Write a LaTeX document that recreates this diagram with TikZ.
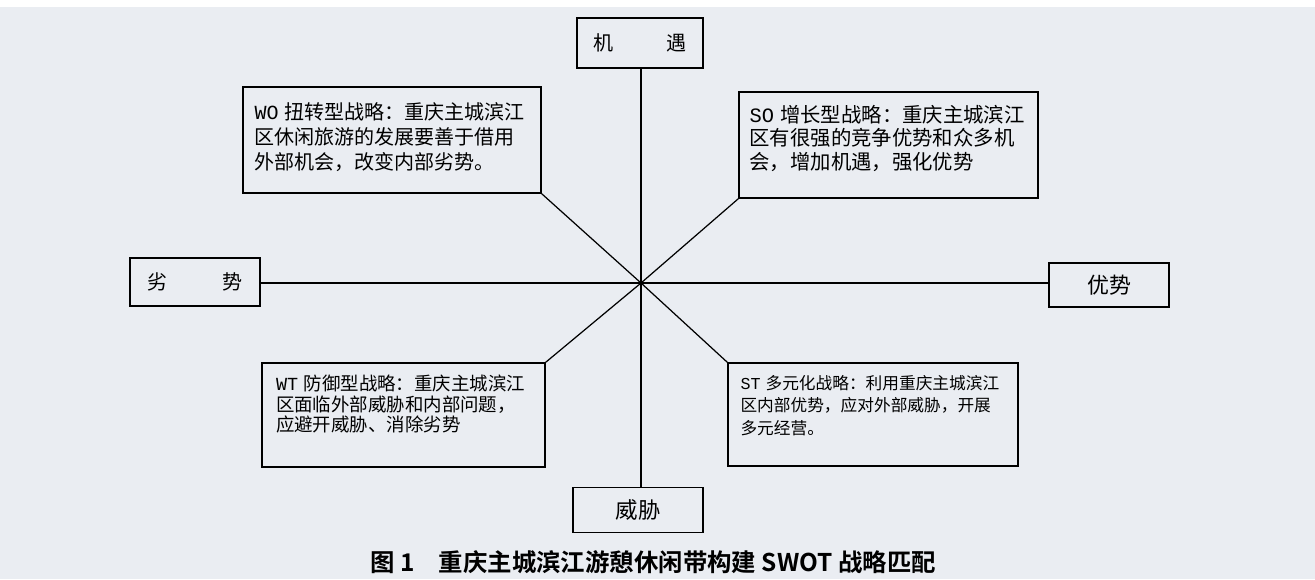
\documentclass[tikz,border=0pt]{standalone}
\usepackage{fontspec}
\newfontfamily\cjk{Noto Sans CJK SC}[BoldFont={Noto Sans CJK SC Bold}]
\newfontfamily\latin{Liberation Mono}
\definecolor{sfondo}{RGB}{234,237,242}
\tikzset{
box/.style={draw,line width=0.9pt,inner sep=0pt,font=\cjk},
asse/.style={box,fill=sfondo},
strategia/.style={box,fill=sfondo},
linea/.style={draw,line width=0.7pt}}

\begin{document}
\begin{tikzpicture}[x=0.02cm,y=-0.02cm]

\fill[sfondo] (0,0) rectangle (1315,579);
\fill[white] (0,0) rectangle (1315,7);
\useasboundingbox (0,0) rectangle (1315,579);

\coordinate (c) at (641,283);

\node[asse,minimum width=2.52cm,minimum height=1.0cm,font=\cjk\fontsize{11.4pt}{14pt}\selectfont] (jy) at (640,43) {机\hspace{2.6em}遇};
\node[asse,minimum width=2.6cm,minimum height=0.96cm,font=\cjk\fontsize{11.4pt}{14pt}\selectfont] (ls) at (195,282) {劣\hspace{2.7em}势};
\node[asse,minimum width=2.4cm,minimum height=0.88cm,font=\cjk\fontsize{12.5pt}{15pt}\selectfont] (ys) at (1109,285) {优势};
\node[asse,minimum width=2.6cm,minimum height=0.9cm,font=\cjk\fontsize{12.8pt}{15pt}\selectfont] (wx) at (638,510) {威胁};

\node[strategia,minimum width=5.96cm,minimum height=2.12cm,font=\cjk\fontsize{11.4pt}{14.2pt}\selectfont] (wo) at (392,140)
  {\parbox[t][1.48cm][t]{5.5cm}{{\latin WO}\kern.3em 扭转型战略：重庆主城滨江\\区休闲旅游的发展要善于借用\\外部机会，改变内部劣势。}};
\node[strategia,minimum width=5.98cm,minimum height=2.12cm,font=\cjk\fontsize{11.6pt}{13.4pt}\selectfont] (so) at (888.5,145)
  {\parbox[t][1.6cm][t]{5.56cm}{{\latin SO}\kern.3em 增长型战略：重庆主城滨江\\区有很强的竞争优势和众多机\\会，增加机遇，强化优势}};
\node[strategia,minimum width=5.66cm,minimum height=2.08cm,font=\cjk\fontsize{10.5pt}{11.7pt}\selectfont] (wt) at (403.5,415)
  {\parbox[t][1.6cm][t]{5.1cm}{{\latin WT}\kern.3em 防御型战略：重庆主城滨江\\区面临外部威胁和内部问题，\\应避开威胁、消除劣势}};
\node[strategia,minimum width=5.8cm,minimum height=2.06cm,font=\cjk\fontsize{9.5pt}{13pt}\selectfont] (st) at (873,414.5)
  {\parbox[t][1.58cm][t]{5.3cm}{{\latin ST}\kern.3em 多元化战略：利用重庆主城滨江\\区内部优势，应对外部威胁，开展\\多元经营。}};

\path[linea] (c) edge (c |- jy.south);
\path[linea] (c) edge (c |- wx.north);
\path[linea] (c) edge (c -| ls.east);
\path[linea] (c) edge (c -| ys.west);
\path[linea] (c) edge (wo.south east);
\path[linea] (c) edge (so.south west);
\path[linea] (c) edge (wt.north east);
\path[linea] (c) edge (st.north west);

\node[font=\cjk\bfseries\fontsize{13.9pt}{16pt}\selectfont] (titolo) at (653,562) {图 1\quad 重庆主城滨江游憩休闲带构建 SWOT 战略匹配};

\end{tikzpicture}
\end{document}
